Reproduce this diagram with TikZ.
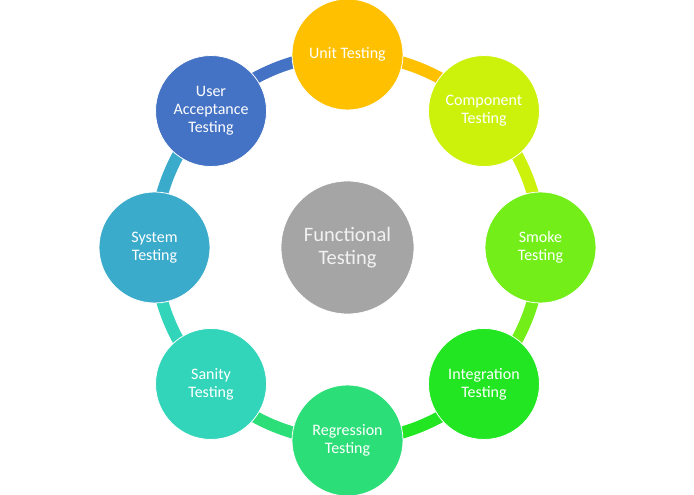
\documentclass[tikz,border=0pt]{standalone}
\usepackage{fontspec}
\setmainfont{Carlito}
\usetikzlibrary{backgrounds}

\definecolor{unitc}{HTML}{FFC000}
\definecolor{compc}{HTML}{CCF20C}
\definecolor{smokec}{HTML}{73EE19}
\definecolor{integc}{HTML}{21E621}
\definecolor{regrc}{HTML}{2CDE78}
\definecolor{sanityc}{HTML}{33D5BA}
\definecolor{systemc}{HTML}{3BABCB}
\definecolor{userc}{HTML}{4472C4}
\definecolor{hubc}{HTML}{A5A5A5}

\tikzstyle{stage}=[
    circle,
    draw=white,
    line width=0.8pt,
    minimum size=111pt,
    inner sep=0pt,
    align=center,
    text=white,
    font=\fontsize{16}{18}\selectfont,
  ]
\tikzstyle{hub}=[
    stage,
    fill=hubc,
    minimum size=133pt,
    text=white!95!black,
    font=\fontsize{20.5}{23}\selectfont,
  ]
\tikzstyle{ring}=[
    line width=12pt,
    bend left=22.5,
    looseness=0.885,
  ]

\begin{document}
\begin{tikzpicture}
      \useasboundingbox (0,0) rectangle (694pt,495pt);
      \node[hub] (hub) at (347.5pt,247.5pt) {Functional\\Testing};
      \foreach \n/\col/\txt [count=\i from 0] in {%
          unit/unitc/Unit Testing,
          comp/compc/Component\\Testing,
          smoke/smokec/Smoke\\Testing,
          integ/integc/Integration\\Testing,
          regr/regrc/Regression\\Testing,
          sanity/sanityc/Sanity\\Testing,
          system/systemc/System\\Testing,
          user/userc/User\\Acceptance\\Testing} {%
        \node[stage, fill=\col] (\n) at ([shift={(90-45*\i:193pt)}]hub.center) {\txt};
      }
      \begin{scope}[on background layer]
        \foreach \a/\b/\col in {unit/comp/unitc, comp/smoke/compc,
            smoke/integ/smokec, integ/regr/integc, regr/sanity/regrc,
            sanity/system/sanityc, system/user/systemc, user/unit/userc} {%
          \draw[ring, \col] (\a.center) to (\b.center);
        }
      \end{scope}
    \end{tikzpicture}
\end{document}
